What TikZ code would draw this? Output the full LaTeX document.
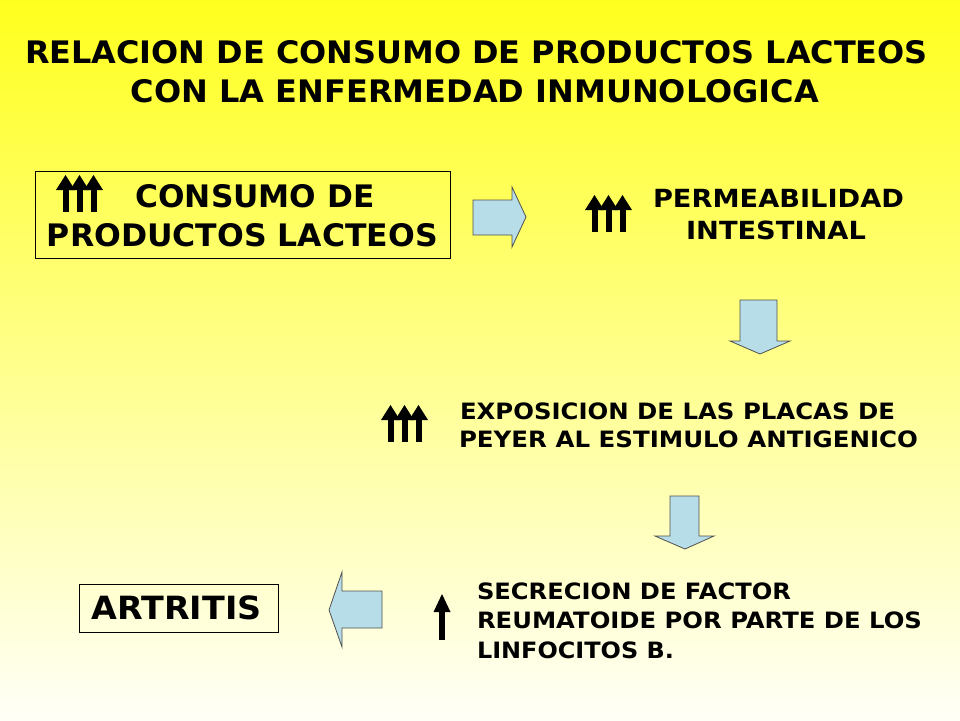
\documentclass[tikz,border=0pt]{standalone}
\usepackage{fontspec}
\setmainfont{DejaVu Sans}
\usepackage{graphicx}
\definecolor{bgtop}{RGB}{255,255,30}
\definecolor{bgbot}{RGB}{255,255,248}
\definecolor{arrowblue}{RGB}{183,222,232}
\definecolor{arrowedge}{RGB}{80,80,80}
\newsavebox\tbox
\newcommand\fitw[3]{\sbox\tbox{\fontsize{#2}{#2}\selectfont\bfseries #3}\pgfmathsetmacro\tratio{#1/\the\wd\tbox}\scalebox{\tratio}[1]{\usebox\tbox}}
\tikzset{
  uparr/.pic={\fill (-3,0) rectangle (3,-24); \fill (-9.5,-22) -- (0,-37) -- (9.5,-22) -- cycle;},
  tripleup/.pic={\pic at (9.5,0) {uparr}; \pic at (23.5,0) {uparr}; \pic at (37.5,0) {uparr};},
  singleup/.pic={\fill (-3,0) rectangle (3,-30); \fill (-8.5,-28) -- (0,-46) -- (8.5,-28) -- cycle;},
}
\begin{document}
\begin{tikzpicture}[x=1pt,y=-1pt,
  txt/.style={inner sep=0pt,outer sep=0pt},
  frame/.style={draw=black,line width=0.9pt,inner sep=0pt},
  blk/.style={fill=arrowblue,draw=arrowedge,line width=0.8pt,line join=miter}]
\useasboundingbox (0,0) rectangle (960,720);
\shade[top color=bgtop,bottom color=bgbot] (0,0) rectangle (960,720);

% title
\node[txt,anchor=base] (t1) at (476.5,63.5) {\fitw{903}{31}{RELACION DE CONSUMO DE PRODUCTOS LACTEOS}};
\node[txt,anchor=base] (t2) at (475,102.5) {\fitw{688}{31}{CON LA ENFERMEDAD INMUNOLOGICA}};

% box 1
\node[frame,minimum width=415pt,minimum height=87pt] (box1) at (242.5,214.5) {};
\node[txt,anchor=base] (c1) at (255,207.5) {\fitw{239}{31}{CONSUMO DE}};
\node[txt,anchor=base] (c2) at (242.5,246.5) {\fitw{391}{31}{PRODUCTOS LACTEOS}};
\pic at (56,212) {tripleup};

% right arrow
\draw[blk] (473,200) -- (512,200) -- (512,187) -- (526,217) -- (512,247) -- (512,235) -- (473,235) -- cycle;

% permeabilidad
\pic at (585,232) {tripleup};
\node[txt,anchor=base] (p1) at (778.5,207) {\fitw{251}{25}{PERMEABILIDAD}};
\node[txt,anchor=base] (p2) at (776,239) {\fitw{180}{25}{INTESTINAL}};

% down arrow 1
\draw[blk] (740,300) -- (777,300) -- (777,341) -- (790,341) -- (760,354) -- (730,341) -- (740,341) -- cycle;

% exposicion
\pic at (381,442) {tripleup};
\node[txt,anchor=base west] (e1) at (460,419) {\fitw{435}{22.5}{EXPOSICION DE LAS PLACAS DE}};
\node[txt,anchor=base west] (e2) at (459,447) {\fitw{459}{22.5}{PEYER AL ESTIMULO ANTIGENICO}};

% down arrow 2
\draw[blk] (670,496) -- (699,496) -- (699,536) -- (714,536) -- (685,549) -- (655,536) -- (670,536) -- cycle;

% secrecion
\pic at (442,640) {singleup};
\node[txt,anchor=base west] (s1) at (477,599) {\fitw{314}{22.5}{SECRECION DE FACTOR}};
\node[txt,anchor=base west] (s2) at (477,628) {\fitw{445}{22.5}{REUMATOIDE POR PARTE DE LOS}};
\node[txt,anchor=base west] (s3) at (477,658) {\fitw{197}{22.5}{LINFOCITOS B.}};

% left arrow
\draw[blk] (382,591) -- (342,591) -- (342,572) -- (329,610) -- (342,647) -- (342,628) -- (382,628) -- cycle;

% artritis
\node[frame,minimum width=199pt,minimum height=48pt] (box2) at (178.5,608) {};
\node[txt,anchor=base] (a1) at (176.5,619.5) {\fitw{170}{32}{ARTRITIS}};
\end{tikzpicture}
\end{document}
